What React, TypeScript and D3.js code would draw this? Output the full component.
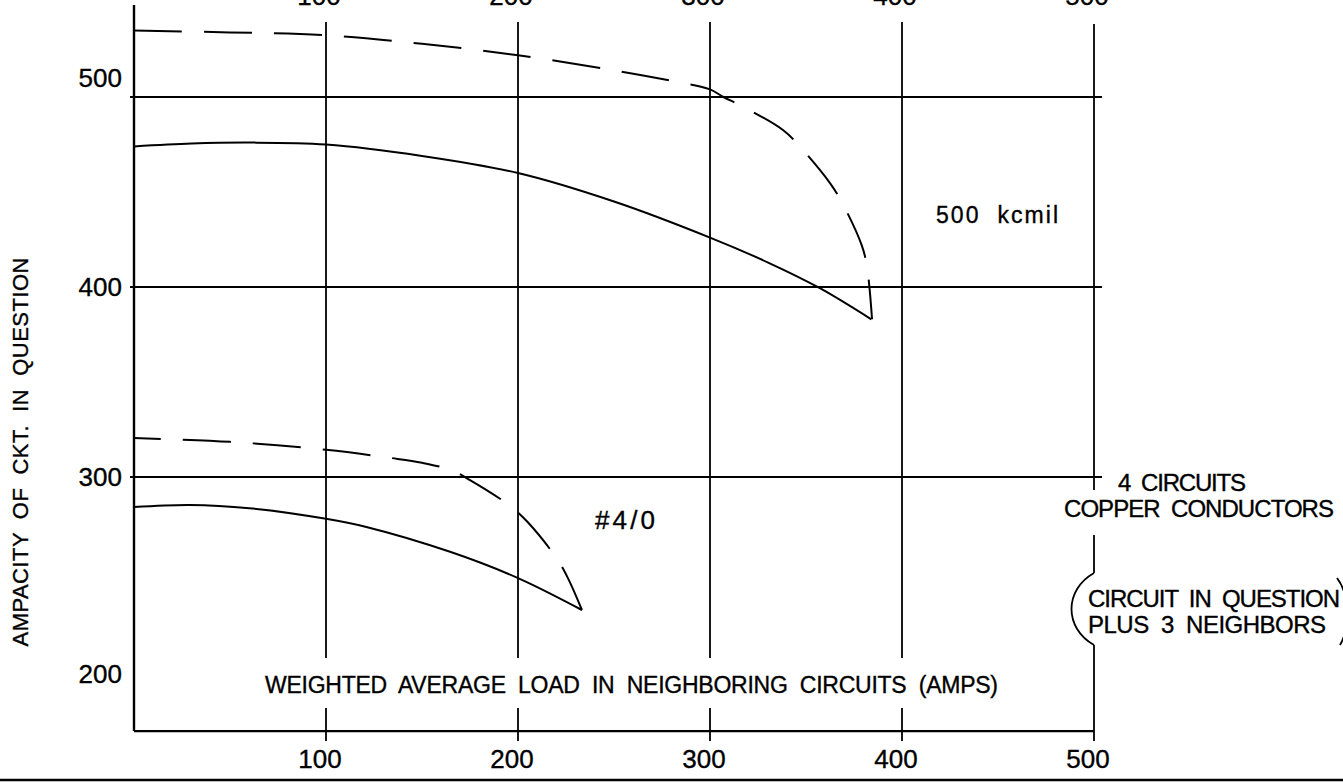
import React from "react";
import * as d3 from "d3";

// ---- data ----
const X_TICKS = [100, 200, 300, 400, 500];
const Y_TICKS = [200, 300, 400, 500];
const Y_GRID = [300, 400, 500];
const Y_AXIS_MIN = 166.3;
const Y_AXIS_MAX = 548.4;

const kcmil500Solid: [number, number][] = [
  [0, 474], [30, 475.5], [60, 476], [100, 475], [150, 469], [200, 460],
  [250, 445], [300, 426], [330, 413], [357, 399.5], [384, 383],
];
const kcmil500Dashed: [number, number][] = [
  [0, 535], [50, 534], [100, 532.5], [150, 528], [200, 522], [250, 514],
  [280, 508.5], [300, 504], [307, 500], [317, 495], [338, 482.6],
  [347, 473.7], [362.5, 454.7], [369, 444], [379, 422], [381.8, 410.5], [384.4, 383],
];
const awg40Solid: [number, number][] = [
  [0, 284.2], [29, 285.3], [60, 283.6], [100, 278], [121, 273.7],
  [165, 260.5], [200, 246.8], [233.3, 230],
];
const awg40Dashed: [number, number][] = [
  [0, 320.5], [50, 318.5], [100, 314.3], [134, 310], [150, 307.5],
  [165, 303.7], [175, 298.4], [196, 284.7], [205, 276.3], [220, 257.4],
  [226, 246.8], [233.3, 230],
];

const xAxisTitle = "WEIGHTED  AVERAGE  LOAD  IN  NEIGHBORING  CIRCUITS  (AMPS)";
const yAxisTitle = "AMPACITY  OF  CKT.  IN  QUESTION";
const yLabelDy: Record<number, number> = { 500: -19, 400: 0, 300: 0, 200: 7 };

const FONT = "'Liberation Sans', Arial, sans-serif";

export default function App() {
  const W = 1343, H = 782;
  const x = d3.scaleLinear().domain([0, 500]).range([134, 1094]);
  const y = d3.scaleLinear().domain([300, 500]).range([477, 97]);
  const line = d3
    .line<[number, number]>()
    .x((d) => x(d[0]))
    .y((d) => y(d[1]))
    .curve(d3.curveCatmullRom.alpha(0.5));

  const gapTop = 658, gapBot = 708;
  const gridTop = 22;
  const tickBot = 741;
  const x0 = x(0);
  const yBottom = y(Y_AXIS_MIN);
  const txt = { stroke: "#000", strokeWidth: 0.35 } as const;

  return (
    <svg
      width={W}
      height={H}
      style={{ position: "absolute", left: 0, top: 0, background: "#fff" }}
      fontFamily={FONT}
    >
      <rect width={W} height={H} fill="#fff" />
      {/* horizontal grid */}
      {Y_GRID.map((v) => (
        <line key={"hg" + v} x1={x0 - 4} x2={x(500) + 8} y1={y(v)} y2={y(v)} stroke="#000" strokeWidth={1.8} />
      ))}
      {/* vertical grid (with gap around axis title) */}
      {X_TICKS.filter((v) => v < 500).map((v) => (
        <g key={"vg" + v}>
          <line x1={x(v)} x2={x(v)} y1={gridTop} y2={gapTop} stroke="#000" strokeWidth={1.8} />
          <line x1={x(v)} x2={x(v)} y1={gapBot} y2={tickBot} stroke="#000" strokeWidth={1.8} />
        </g>
      ))}
      {/* 500 line with gaps for right-side notes */}
      <line x1={x(500)} x2={x(500)} y1={gridTop + 2} y2={490} stroke="#000" strokeWidth={1.8} />
      <line x1={x(500)} x2={x(500)} y1={535} y2={573} stroke="#000" strokeWidth={1.8} />
      <path d={`M${x(500)},573 C${x(500) - 30},590 ${x(500) - 30},628 ${x(500)},645`} fill="none" stroke="#000" strokeWidth={1.8} />
      <line x1={x(500)} x2={x(500)} y1={645} y2={tickBot} stroke="#000" strokeWidth={1.8} />
      <path d={`M1337,578 C1350,595 1350,628 1340,645`} fill="none" stroke="#000" strokeWidth={1.8} />

      {/* axes */}
      <line x1={x0} x2={x0} y1={y(Y_AXIS_MAX)} y2={yBottom} stroke="#000" strokeWidth={2.4} />
      <line x1={x0} x2={x(500)} y1={yBottom} y2={yBottom} stroke="#000" strokeWidth={2.2} />

      {/* curves */}
      <path d={line(kcmil500Solid) || ""} fill="none" stroke="#000" strokeWidth={2} />
      <path d={line(kcmil500Dashed) || ""} fill="none" stroke="#000" strokeWidth={2} strokeDasharray="48 22" />
      <path d={line(awg40Solid) || ""} fill="none" stroke="#000" strokeWidth={2} />
      <path d={line(awg40Dashed) || ""} fill="none" stroke="#000" strokeWidth={2} strokeDasharray="48 22" strokeDashoffset={21} />

      {/* y tick labels */}
      {Y_TICKS.map((v) => (
        <text key={"yl" + v} x={122} y={y(v) + 9 + (yLabelDy[v] || 0)} textAnchor="end" fontSize={26} {...txt}>
          {v}
        </text>
      ))}
      {/* bottom x tick labels */}
      {X_TICKS.map((v) => (
        <text key={"xb" + v} x={x(v) - 6} y={768} textAnchor="middle" fontSize={26} {...txt}>
          {v}
        </text>
      ))}
      {/* top x tick labels (cut by page edge, as in the reference) */}
      {X_TICKS.map((v) => (
        <text key={"xt" + v} x={x(v) - 7} y={5} textAnchor="middle" fontSize={26} {...txt}>
          {v}
        </text>
      ))}

      {/* axis titles */}
      <text x={265} y={693} fontSize={23} textLength={733} lengthAdjust="spacing" style={{ whiteSpace: "pre" }} {...txt}>
        {xAxisTitle}
      </text>
      <text
        transform="translate(28,452) rotate(-90)"
        textAnchor="middle"
        fontSize={22}
        textLength={389}
        lengthAdjust="spacing"
        style={{ whiteSpace: "pre" }}
        {...txt}
      >
        {yAxisTitle}
      </text>

      {/* annotations */}
      <text x={936} y={223} fontSize={23} textLength={122} lengthAdjust="spacing" style={{ whiteSpace: "pre" }} {...txt}>500  kcmil</text>
      <text x={595} y={529} fontSize={26} textLength={60} lengthAdjust="spacing" {...txt}>#4/0</text>
      <line x1={x(500)} x2={x(500) + 8} y1={y(300)} y2={y(300)} stroke="#000" strokeWidth={1.8} />
      <text x={1118} y={491} fontSize={24} textLength={128} lengthAdjust="spacing" style={{ whiteSpace: "pre" }} {...txt}>4  CIRCUITS</text>
      <text x={1064} y={517} fontSize={24} textLength={270} lengthAdjust="spacing" style={{ whiteSpace: "pre" }} {...txt}>COPPER  CONDUCTORS</text>
      <text x={1088} y={607} fontSize={24} textLength={252} lengthAdjust="spacing" style={{ whiteSpace: "pre" }} {...txt}>CIRCUIT  IN  QUESTION</text>
      <text x={1088} y={633} fontSize={24} textLength={238} lengthAdjust="spacing" style={{ whiteSpace: "pre" }} {...txt}>PLUS  3  NEIGHBORS</text>

      {/* page border line at bottom */}
      <line x1={0} x2={W} y1={780} y2={780} stroke="#000" strokeWidth={2.4} />
    </svg>
  );
}
